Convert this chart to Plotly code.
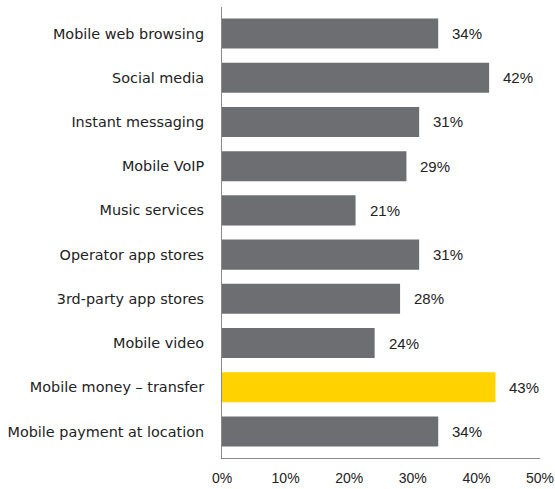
import plotly.graph_objects as go

categories = ["Mobile web browsing", "Social media", "Instant messaging", "Mobile VoIP",
              "Music services", "Operator app stores", "3rd-party app stores",
              "Mobile video", "Mobile money \u2013 transfer", "Mobile payment at location"]
values = [34, 42, 31, 29, 21, 31, 28, 24, 43, 34]
highlight = "Mobile money \u2013 transfer"
x_ticks = [0, 10, 20, 30, 40, 50]

GRAY = "#6d6e71"
YELLOW = "#ffd200"
colors = [YELLOW if c == highlight else GRAY for c in categories]
FONT = "DejaVu Sans"
NUMFONT = "Liberation Sans"
TXT = "#222222"

fig = go.Figure(go.Bar(
    x=values, y=categories, orientation="h",
    marker=dict(color=colors, line=dict(width=0)),
    width=0.68, hoverinfo="skip",
))

for c, v in zip(categories, values):
    fig.add_annotation(x=v, y=c, text=f"{v}%", showarrow=False,
                       xanchor="left", xshift=12,
                       font=dict(family=NUMFONT, size=15, color=TXT))

fig.update_layout(
    width=555, height=489,
    margin=dict(l=222, r=15, t=7, b=31, autoexpand=False),
    plot_bgcolor="white", paper_bgcolor="white",
    showlegend=False,
    font=dict(family=FONT, size=14.4, color=TXT),
)
fig.update_xaxes(range=[0, 50], tickvals=x_ticks, ticktext=[f"{t}%" for t in x_ticks],
                 tickfont=dict(family=NUMFONT, size=14, color=TXT),
                 showgrid=False, zeroline=False, showline=True, linecolor="#8a8a8a",
                 linewidth=1, ticks="", fixedrange=True, automargin=False,
                 ticklabeloverflow="allow", ticklabelstandoff=7)
fig.update_yaxes(categoryorder="array", categoryarray=categories, autorange=False,
                 range=[9.6, -0.6], showgrid=False, zeroline=False, showline=True,
                 linecolor="#8a8a8a", linewidth=1, ticks="", ticklabelstandoff=14,
                 fixedrange=True, automargin=False)

fig.write_html("out.html", config={"displayModeBar": False},
               post_script="document.body.style.margin='0px';")
